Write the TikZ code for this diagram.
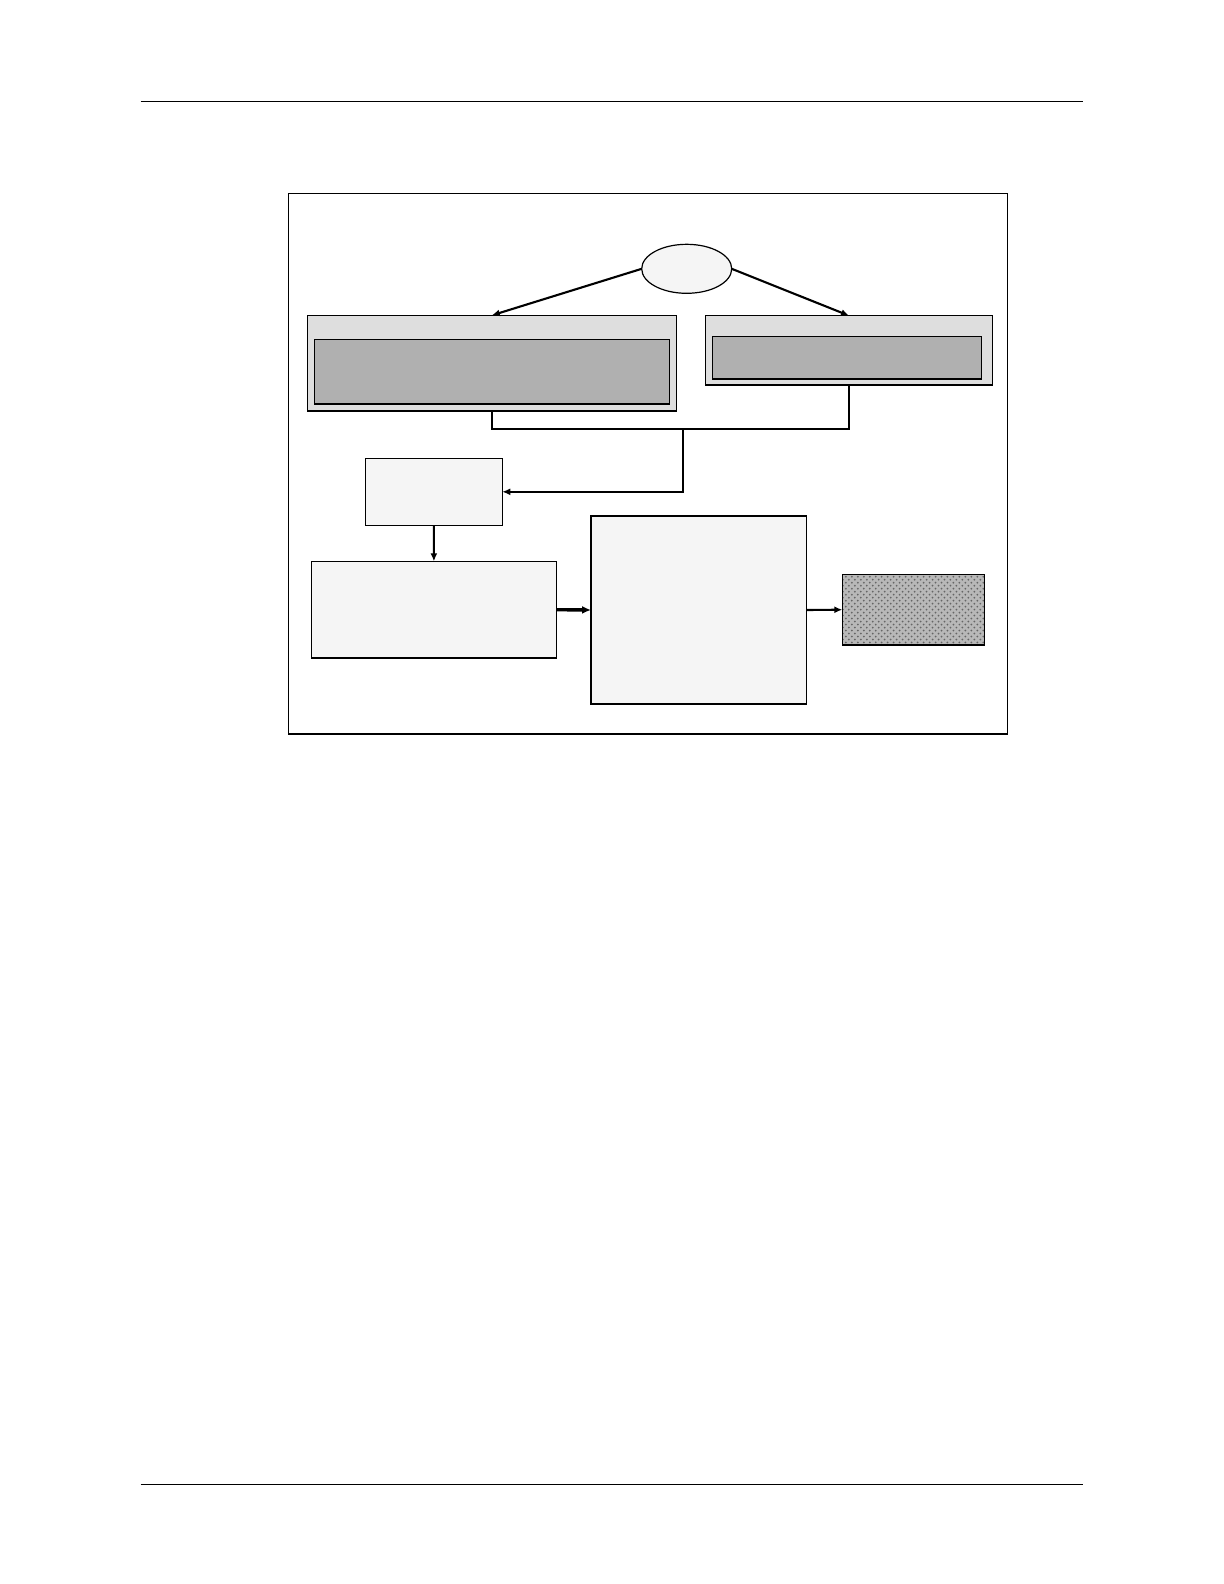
\documentclass[tikz,border=0pt]{standalone}
\usetikzlibrary{arrows.meta,patterns,calc,shapes.geometric}
\begin{document}
\begin{tikzpicture}[x=0.5bp,y=-0.5bp,
  boxline/.style={draw=black,line width=0.6bp,inner sep=0pt,outer sep=0pt},
  outerbox/.style={boxline,rectangle,fill=black!13},
  innerbox/.style={boxline,rectangle,fill=black!31},
  plainbox/.style={boxline,rectangle,fill=black!4},
  hatchbox/.style={boxline,rectangle,preaction={fill=black!28},pattern=crosshatch dots,pattern color=black!60},
  conn/.style={draw=black,line width=1.05bp,-{Latex[length=4bp,width=3.5bp]}},
  thickconn/.style={draw=black,line width=1.7bp,-{Latex[length=4.5bp,width=4bp]}},
  plainconn/.style={draw=black,line width=1.05bp},
  rule/.style={draw=black,line width=0.5bp}]
\useasboundingbox (0,0) rectangle (1224,1584);
\fill[white] (0,0) rectangle (1224,1584);
% page rules
\coordinate (h1) at (140.5,101);
\coordinate (h2) at (1083,101);
\coordinate (f1) at (140.5,1484.5);
\coordinate (f2) at (1083,1484.5);
\draw[rule] (h1) -- (h2);
\draw[rule] (f1) -- (f2);
% frame
\node[boxline,rectangle,minimum width=359.5bp,minimum height=270.35bp] (frame) at (647.8,463.65) {};
% ellipse
\node[boxline,ellipse,fill=black!4,minimum width=45bp,minimum height=24.5bp] (ell) at (686.7,268.8) {};
% top boxes
\node[outerbox,minimum width=184.5bp,minimum height=47.85bp] (LO) at (491.8,363.2) {};
\node[innerbox,minimum width=177.5bp,minimum height=32.35bp] (LI) at (491.8,371.7) {};
\node[outerbox,minimum width=143.3bp,minimum height=34.65bp] (RO) at (849,350.3) {};
\node[innerbox,minimum width=134.5bp,minimum height=21.15bp] (RI) at (846.8,357.8) {};
% lower boxes
\node[plainbox,minimum width=68.5bp,minimum height=33.5bp] (SB) at (433.8,491.8) {};
\node[plainbox,minimum width=122.65bp,minimum height=48.35bp] (LL) at (433.9,609.7) {};
\node[plainbox,minimum width=107.65bp,minimum height=94bp] (BB) at (698.7,610) {};
\node[hatchbox,minimum width=71bp,minimum height=35.35bp] (HB) at (913.3,609.7) {};
% connectors
\draw[conn] (ell.west) -- (LO.north);
\draw[conn] (ell.east) -- (RO.north);
\coordinate (j) at (683.3,429);
\draw[plainconn] (LO.south) |- (j) -| (RO.south);
\draw[conn] (j) |- (SB.east);
\draw[conn] (SB.south) -- (LL.north);
\draw[thickconn] (LL.east) -- (BB.west);
\draw[conn] (BB.east) -- (HB.west);
\end{tikzpicture}
\end{document}
